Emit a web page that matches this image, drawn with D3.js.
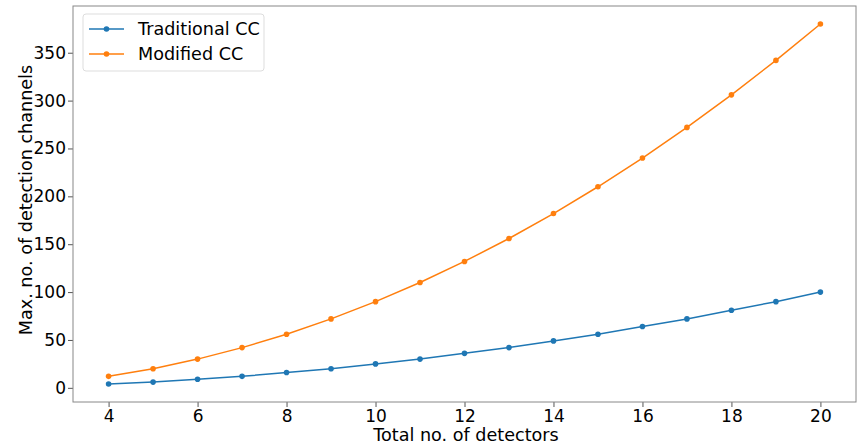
<!DOCTYPE html>
<html><head><meta charset="utf-8">
<script src="https://cdn.jsdelivr.net/npm/d3@7/dist/d3.min.js"></script>
<style>body{margin:0;background:#fff}svg{display:block}text{font-family:"DejaVu Sans",sans-serif}</style>
</head><body>
<script>
const detectors = [4,5,6,7,8,9,10,11,12,13,14,15,16,17,18,19,20];
const traditional = [4,6,9,12,16,20,25,30,36,42,49,56,64,72,81,90,100];
const modified = [12,20,30,42,56,72,90,110,132,156,182,210,240,272,306,342,380];
const seriesNames = ["Traditional CC","Modified CC"];
const colors = ["#1f77b4","#ff7f0e"];
const xTicks = [4,6,8,10,12,14,16,18,20];
const yTicks = [0,50,100,150,200,250,300,350];

const W=857,H=443;
const m={l:73,t:6,r:856,b:402};
const svg=d3.select("body").append("svg").attr("width",W).attr("height",H);
const x=d3.scaleLinear().domain([3.2,20.8]).range([m.l,m.r]);
const y=d3.scaleLinear().domain([-14.8,398.8]).range([m.b,m.t]);

const fs=17, lfs=17.6;
const gx=svg.append("g").attr("transform",`translate(0,${m.b})`)
  .call(d3.axisBottom(x).tickValues(xTicks).tickSize(5).tickPadding(2.5).tickFormat(d3.format("d")));
const gy=svg.append("g").attr("transform",`translate(${m.l},0)`)
  .call(d3.axisLeft(y).tickValues(yTicks).tickSize(5).tickPadding(2).tickFormat(d3.format("d")));
[gx,gy].forEach(g=>{
  g.select(".domain").remove();
  g.selectAll(".tick line").attr("stroke","#555").attr("stroke-width",1);
  g.selectAll(".tick text").attr("font-size",fs).attr("fill","#000").attr("font-family","DejaVu Sans");
});
svg.append("rect").attr("x",m.l).attr("y",m.t).attr("width",m.r-m.l).attr("height",m.b-m.t)
  .attr("fill","none").attr("stroke","#888").attr("stroke-width",1);

const data=[traditional,modified];
data.forEach((vals,i)=>{
  const pts=detectors.map((d,j)=>[d,vals[j]]);
  svg.append("path").datum(pts).attr("fill","none").attr("stroke",colors[i]).attr("stroke-width",1.5)
    .attr("d",d3.line().x(d=>x(d[0])).y(d=>y(d[1])));
  svg.append("g").selectAll("circle").data(pts).join("circle")
    .attr("cx",d=>x(d[0])).attr("cy",d=>y(d[1])).attr("r",2.8).attr("fill",colors[i]);
});

svg.append("text").attr("x",466).attr("y",440.5).attr("text-anchor","middle")
  .attr("font-size",lfs).text("Total no. of detectors");
svg.append("text").attr("transform",`translate(32,200) rotate(-90)`).attr("text-anchor","middle")
  .attr("font-size",lfs).text("Max. no. of detection channels");

const lg=svg.append("g");
lg.append("rect").attr("x",83).attr("y",14).attr("width",181).attr("height",57).attr("rx",3)
  .attr("fill","#fff").attr("fill-opacity",0.8).attr("stroke","#ddd");
seriesNames.forEach((n,i)=>{
  const yy=29+i*25;
  lg.append("line").attr("x1",89).attr("x2",124).attr("y1",yy).attr("y2",yy).attr("stroke",colors[i]).attr("stroke-width",1.5);
  lg.append("circle").attr("cx",106.5).attr("cy",yy).attr("r",2.8).attr("fill",colors[i]);
  lg.append("text").attr("x",138).attr("y",yy+6).attr("font-size",lfs).text(n);
});
</script>
</body></html>
